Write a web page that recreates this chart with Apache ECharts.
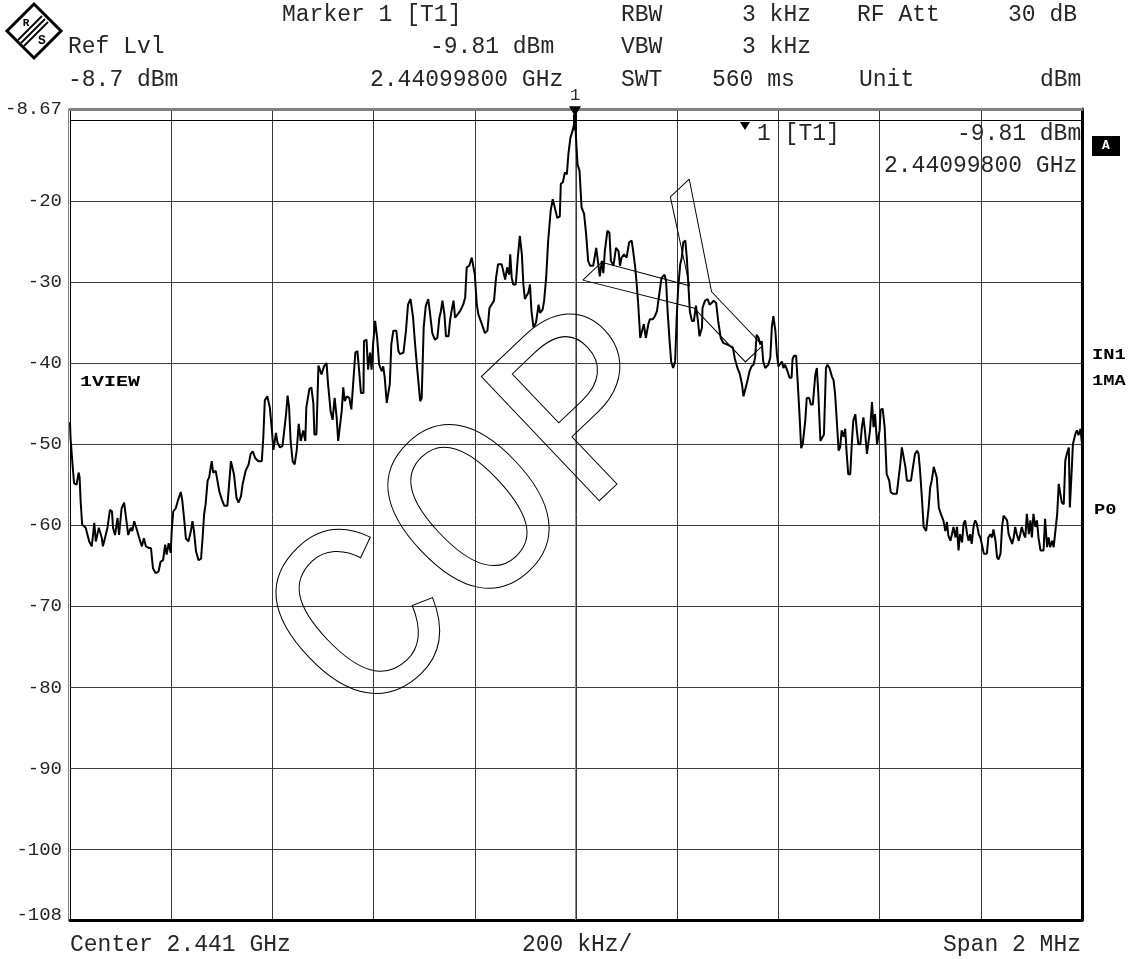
<!DOCTYPE html>
<html>
<head>
<meta charset="utf-8">
<script src="https://cdn.jsdelivr.net/npm/echarts@6/dist/echarts.min.js"></script>
<style>
html,body{margin:0;padding:0;background:#fff;}
#chart{width:1137px;height:959px;}
</style>
</head>
<body>
<div id="chart"></div>
<script>
// Frequency offset from centre 2.441 GHz, kHz
const freqKHz = [
-1000,-999,-995,-992,-987,-983,-981,-979,-976,-969,-962,-957,-952,-949,-943,-937,-935,-931,-926,-921,-917,-915,-911,-906,-903,-898,-893,-890,-885,-880,-877,-873,-869,-863,-858,-854,-850,-844,-840,-836,-831,-825,-821,-816,-812,-809,-805,-801,-799,-796,-791,-786,-781,-778,-774,-771,-766,-761,-758,-755,-751,-746,-741,-738,-735,-732,-728,-725,-720,-717,-712,-705,-700,-695,-689,-685,-682,-679,-676,-671,-667,-662,-659,-653,-647,-643,-639,-634,-628,-621,-618,-615,-610,-605,-601,-598,-593,-590,-585,-580,-577,-573,-570,-567,-564,-560,-556,-552,-548,-544,-539,-535,-533,-527,-523,-519,-517,-513,-509,
-506,-503,-498,-493,-490,-485,-481,-477,-473,-470,-467,-463,-460,-457,-453,-448,-444,-440,-436,-432,-428,-425,-420,-419,-414,-411,-407,-404,-401,-397,-393,-389,-384,-381,-378,-374,-371,-368,-365,-361,-355,-351,-348,-341,-336,-332,-327,-322,-318,-314,-308,-305,-301,-297,-292,-289,-284,-279,-274,-270,-267,-264,-260,-257,-252,-249,-246,-242,-239,-236,-229,-223,-219,-216,-211,-206,-203,-200,-196,-193,-186,-180,-175,-171,-167,-162,-158,-154,-147,-144,-140,-136,-132,-130,-127,-124,-119,-115,-111,-107,-104,-101,-94,-91,-88,-84,-79,-74,-71,-66,-63,-59,-55,-50,-46,-42,-37,-32,-30,-26,-22,-18,-15,-11,-7,-4,-2,
0,3,7,11,16,20,24,28,34,40,44,47,51,54,57,62,66,69,74,79,84,87,90,95,100,105,110,113,117,120,123,127,130,134,138,143,146,152,156,160,165,169,175,178,181,185,188,192,196,199,202,206,209,212,216,219,222,225,229,233,237,241,244,249,250,255,260,264,268,272,277,281,286,291,298,305,310,314,319,324,328,331,334,338,343,347,351,354,357,361,364,367,370,374,377,380,384,387,390,394,397,400,403,407,410,413,418,422,426,428,431,435,438,442,445,448,453,456,461,464,468,473,476,479,483,486,490,494,497,501,
506,509,512,515,519,522,525,529,532,535,538,542,545,548,552,555,558,562,565,568,571,575,578,581,585,588,591,595,600,602,606,610,614,619,622,626,634,637,641,644,647,651,654,657,662,666,670,674,677,680,684,687,692,697,700,703,707,710,713,717,721,726,730,733,736,740,743,746,750,753,756,759,763,766,769,773,776,779,782,786,789,792,796,799,802,806,809,812,815,819,822,825,829,832,835,839,842,845,848,852,855,858,862,865,868,871,875,878,881,885,888,891,895,898,901,904,908,911,914,918,921,924,927,931,934,937,941,944,947,951,954,957,960,964,967,970,974,976,978,980,982,987,990,993,997,1000
];
// Trace level, dBm
const levelDbm = [
-47.3,-49.2,-52.5,-54.8,-55.0,-53.5,-54.1,-57.0,-59.9,-60.3,-62.0,-62.6,-59.7,-62.0,-60.3,-61.6,-62.6,-61.6,-60.3,-58.1,-58.3,-60.3,-61.2,-59.1,-61.2,-57.9,-57.2,-58.7,-61.2,-60.3,-60.7,-59.5,-60.3,-61.6,-62.6,-61.6,-62.6,-62.8,-62.8,-65.3,-65.9,-65.7,-64.5,-64.3,-62.4,-63.6,-62.2,-63.4,-60.7,-58.3,-57.9,-56.8,-55.9,-57.0,-59.5,-61.6,-62.0,-60.7,-59.5,-60.7,-63.2,-64.3,-64.1,-61.6,-58.7,-57.4,-54.5,-54.1,-52.1,-53.5,-53.3,-55.8,-56.8,-57.6,-57.6,-54.5,-52.1,-51.9,-53.7,-56.6,-57.2,-56.4,-55.0,-53.3,-52.5,-51.2,-50.9,-51.7,-52.1,-52.1,-49.2,-44.6,-44.1,-45.5,-48.3,-50.7,-48.6,-49.8,-50.4,-50.2,-50.0,-46.3,-44.0,-45.5,-49.6,-52.1,-52.5,-50.8,-47.5,-49.6,-48.3,-49.6,-45.5,-43.2,-43.0,-45.0,-48.8,-48.8,-40.3,
-40.2,-41.4,-40.4,-40.0,-42.6,-45.9,-47.0,-44.3,-46.7,-49.6,-49.4,-45.9,-43.0,-44.7,-44.1,-44.3,-45.7,-42.2,-38.7,-38.5,-41.4,-43.7,-43.7,-37.3,-37.1,-40.8,-38.7,-40.8,-37.7,-34.8,-36.9,-40.2,-41.0,-40.4,-41.8,-44.9,-45.1,-42.6,-37.7,-36.0,-36.0,-38.5,-38.9,-38.7,-36.0,-32.8,-32.1,-34.4,-37.7,-40.6,-44.7,-44.3,-35.6,-33.0,-32.1,-33.6,-36.3,-37.1,-36.9,-34.4,-33.6,-32.3,-34.0,-36.7,-36.7,-34.8,-33.6,-32.3,-34.4,-34.6,-33.6,-32.8,-31.9,-28.2,-28.0,-27.0,-27.0,-29.1,-32.8,-34.0,-35.2,-36.3,-36.0,-33.2,-32.8,-32.3,-29.5,-27.8,-27.8,-28.6,-29.7,-28.2,-29.1,-26.6,-29.5,-30.3,-30.3,-27.0,-24.3,-26.6,-30.3,-32.1,-31.3,-30.3,-33.6,-35.6,-35.0,-32.8,-33.8,-33.4,-32.3,-29.5,-24.9,-21.2,-19.8,-20.8,-22.1,-21.9,-17.9,-17.7,-16.5,-16.7,-14.2,-12.2,-11.4,-10.6,-9.81,
-12.2,-15.5,-16.3,-20.8,-21.6,-24.1,-27.4,-28.0,-28.0,-25.8,-27.8,-29.3,-27.4,-28.9,-26.2,-23.7,-23.9,-27.4,-28.0,-25.8,-26.2,-28.0,-27.0,-26.6,-27.0,-25.1,-24.9,-26.2,-28.2,-30.3,-32.8,-36.9,-37.1,-35.2,-36.9,-35.2,-34.6,-34.6,-34.2,-33.6,-31.3,-29.5,-29.1,-29.9,-33.6,-37.3,-39.8,-40.6,-39.8,-34.4,-30.7,-27.8,-27.0,-25.1,-24.9,-27.0,-30.3,-33.6,-34.8,-34.8,-32.9,-34.8,-36.7,-35.6,-33.2,-32.3,-32.1,-32.8,-32.6,-32.3,-32.6,-34.8,-36.9,-37.5,-37.7,-37.9,-38.1,-39.5,-40.6,-41.4,-42.6,-44.1,-44.1,-42.4,-41.0,-40.4,-40.2,-39.3,-36.5,-36.9,-37.7,-37.3,-39.8,-40.6,-40.6,-40.2,-39.3,-35.6,-34.2,-36.0,-38.9,-40.4,-40.6,-39.8,-40.6,-40.2,-41.0,-41.8,-41.8,-39.5,-39.1,-39.1,-42.2,-46.7,-50.5,-50.0,-47.2,-44.3,-44.3,-45.1,-45.1,-41.4,-40.6,-43.9,-49.6,-49.6,-48.8,-40.6,-40.2,-40.6,
-41.7,-42.1,-43.8,-46.7,-50.8,-50.4,-48.3,-49.1,-48.1,-51.2,-53.7,-53.7,-50.0,-47.1,-46.3,-48.3,-50.0,-50.0,-47.9,-46.7,-48.3,-51.2,-51.4,-48.3,-44.8,-47.9,-46.3,-50.0,-48.3,-45.8,-45.6,-47.9,-53.7,-54.5,-55.9,-56.1,-56.1,-54.5,-52.4,-50.4,-50.4,-52.8,-54.5,-54.7,-54.5,-52.8,-51.2,-50.8,-51.2,-53.3,-57.0,-60.2,-60.7,-57.8,-55.3,-54.5,-52.8,-52.8,-54.1,-57.8,-58.6,-59.4,-60.7,-59.6,-61.3,-61.9,-61.1,-60.2,-61.5,-60.2,-63.1,-61.1,-62.1,-59.8,-59.4,-61.1,-61.9,-61.1,-62.3,-60.0,-59.4,-59.8,-61.1,-61.5,-62.3,-63.5,-63.7,-63.5,-61.5,-61.1,-61.5,-60.5,-61.9,-63.9,-64.2,-63.5,-60.2,-58.8,-58.6,-59.4,-61.1,-61.1,-62.3,-61.5,-60.2,-61.1,-61.9,-61.1,-60.2,-61.1,-61.5,-58.6,-61.1,-59.4,-61.5,-58.6,-60.2,-59.4,-61.5,-63.1,-63.3,-63.1,-59.2,-62.7,-61.5,-62.7,-61.9,-62.7,-62.7,-58.6,-54.9,-54.9,-57.2,-57.4,-52.0,-51.2,-50.4,-57.8,-58.0,-52.8,-50.0,-48.7,-48.3,-48.9,-48.1,-50.0
];
// Axis definitions
const yMin = -108.67, yMax = -8.67;
const yTickValues = [-8.67, -20, -30, -40, -50, -60, -70, -80, -90, -100, -108];
const yTickLabels = ['-8.67', '-20', '-30', '-40', '-50', '-60', '-70', '-80', '-90', '-100', '-108'];
const yGridValues = [-20, -30, -40, -50, -60, -70, -80, -90, -100];
const xMin = -1000, xMax = 1000, xStep = 200;
const displayLine = -10;
const markerFreq = -2, markerLevel = -9.81;

const MONO = '"Liberation Mono", "DejaVu Sans Mono", monospace';
const TXT = '#262626';
const chart = echarts.init(document.getElementById('chart'), null, {renderer: 'canvas'});

function txt(text, x, y, opts) {
  opts = opts || {};
  return {
    type: 'text', x: x, y: y, z: 100,
    scaleX: opts.scaleX || 1,
    style: {
      text: text,
      font: opts.font || ('23px ' + MONO),
      fill: opts.fill || TXT,
      align: opts.align || 'left', textAlign: opts.align || 'left',
      verticalAlign: 'middle', textVerticalAlign: 'middle'
    }
  };
}
const bold = '15px ' + MONO;

const graphics = [
  // header
  txt('Marker 1 [T1]', 282, 15),
  txt('RBW', 621, 15), txt('3 kHz', 742, 15), txt('RF Att', 857, 15), txt('30 dB', 1008, 15),
  txt('Ref Lvl', 68, 47), txt('-9.81 dBm', 430, 47), txt('VBW', 621, 47), txt('3 kHz', 742, 47),
  txt('-8.7 dBm', 68, 80), txt('2.44099800 GHz', 370, 80), txt('SWT', 621, 80), txt('560 ms', 712, 80),
  txt('Unit', 859, 80), txt('dBm', 1040, 80),
  // marker readout inside plot
  {type: 'polygon', z: 100, shape: {points: [[740, 122], [750, 122], [745, 130]]}, style: {fill: '#000'}},
  txt('1 [T1]', 757, 134), txt('-9.81 dBm', 957, 134), txt('2.44099800 GHz', 884, 166),
  // bottom
  txt('Center 2.441 GHz', 70, 945), txt('200 kHz/', 522, 945), txt('Span 2 MHz', 943, 945),
  // side labels
  txt('1VIEW', 80, 382, {font: 'bold ' + bold, scaleX: 1.33, fill: '#000'}),
  txt('IN1', 1092, 355, {font: 'bold ' + bold, scaleX: 1.25, fill: '#000'}),
  txt('1MA', 1092, 381, {font: 'bold ' + bold, scaleX: 1.25, fill: '#000'}),
  txt('P0', 1094, 510, {font: 'bold ' + bold, scaleX: 1.25, fill: '#000'}),
  {type: 'rect', z: 100, shape: {x: 1092, y: 136, width: 28, height: 20}, style: {fill: '#000'}},
  txt('A', 1106, 146, {font: 'bold 13px ' + MONO, fill: '#fff', align: 'center'}),
  // logo
  {type: 'polygon', z: 100, shape: {points: [[34, 4], [61, 31], [34, 58], [7, 31]]}, style: {fill: '#fff', stroke: '#000', lineWidth: 3}},
  {type: 'line', z: 101, shape: {x1: 18, y1: 40, x2: 42, y2: 16}, style: {stroke: '#000', lineWidth: 1.8}},
  {type: 'line', z: 101, shape: {x1: 21, y1: 43, x2: 45, y2: 19}, style: {stroke: '#000', lineWidth: 1.8}},
  {type: 'line', z: 101, shape: {x1: 24, y1: 46, x2: 48, y2: 22}, style: {stroke: '#000', lineWidth: 1.8}},
  txt('R', 26, 23, {font: 'bold 11px ' + MONO, fill: '#000', align: 'center'}),
  txt('S', 42, 41, {font: 'bold 13px ' + MONO, fill: '#000', align: 'center'}),
  // watermark
  {type: 'text', x: 537, y: 465, rotation: 0.76, z: 50, silent: true,
   style: {text: 'COPY', font: '260px ' + MONO, fill: 'none', stroke: '#000', lineWidth: 1,
           align: 'center', textAlign: 'center', verticalAlign: 'middle', textVerticalAlign: 'middle'}}
];

const gridLines = yGridValues.map(v => ({yAxis: v}));
gridLines.push({yAxis: displayLine, lineStyle: {color: '#000', width: 1}});
gridLines.push({xAxis: markerFreq, lineStyle: {color: '#888', width: 1}});

chart.setOption({
  animation: false,
  backgroundColor: '#fff',
  grid: {left: 70, right: 55, top: 109, bottom: 39, containLabel: false},
  xAxis: [
    {type: 'value', min: xMin, max: xMax, interval: xStep, position: 'bottom',
     axisLine: {show: true, onZero: false, lineStyle: {color: '#000', width: 3}},
     axisTick: {show: false}, axisLabel: {show: false},
     splitLine: {show: true, lineStyle: {color: '#3a3a3a', width: 1}}},
    {type: 'value', min: xMin, max: xMax, position: 'top',
     axisLine: {show: true, onZero: false, lineStyle: {color: '#808080', width: 3}},
     axisTick: {show: false}, axisLabel: {show: false}, splitLine: {show: false}}
  ],
  yAxis: [
    {type: 'value', min: yMin, max: yMax, position: 'left',
     axisLine: {show: true, onZero: false, lineStyle: {color: '#000', width: 1}},
     axisTick: {show: false}, splitLine: {show: false},
     axisLabel: {show: true, customValues: yTickValues, margin: 8, color: TXT,
                 fontFamily: MONO, fontSize: 19,
                 formatter: v => { const i = yTickValues.findIndex(t => Math.abs(t - v) < 1e-6); return i >= 0 ? yTickLabels[i] : ''; }}},
    {type: 'value', min: yMin, max: yMax, position: 'right',
     axisLine: {show: true, onZero: false, lineStyle: {color: '#000', width: 3}},
     axisTick: {show: false}, axisLabel: {show: false}, splitLine: {show: false}},
    {type: 'value', min: yMin, max: yMax, position: 'left', offset: 2,
     axisLine: {show: true, onZero: false, lineStyle: {color: '#808080', width: 1}},
     axisTick: {show: false}, axisLabel: {show: false}, splitLine: {show: false}}
  ],
  series: [{
    type: 'line',
    xAxisIndex: 0, yAxisIndex: 0,
    data: freqKHz.map((f, i) => [f, levelDbm[i]]),
    showSymbol: false, symbol: 'none',
    lineStyle: {color: '#000', width: 2},
    z: 10,
    markLine: {silent: true, symbol: ['none', 'none'], label: {show: false}, z: 2,
               lineStyle: {color: '#3a3a3a', width: 1, type: 'solid'}, data: gridLines},
    markPoint: {
      silent: true,
      data: [
        {coord: [markerFreq, markerLevel], symbol: 'triangle', symbolRotate: 180, symbolSize: [12, 10], symbolOffset: [0, -7],
         itemStyle: {color: '#000'},
         label: {show: true, position: 'top', formatter: '1', color: TXT, fontFamily: MONO, fontSize: 17, distance: 2}},
        {coord: [markerFreq, markerLevel], symbol: 'rect', symbolSize: [4, 16], symbolOffset: [0, 4],
         itemStyle: {color: '#000'}, label: {show: false}}
      ]
    }
  }],
  graphic: graphics
});
</script>
</body>
</html>
